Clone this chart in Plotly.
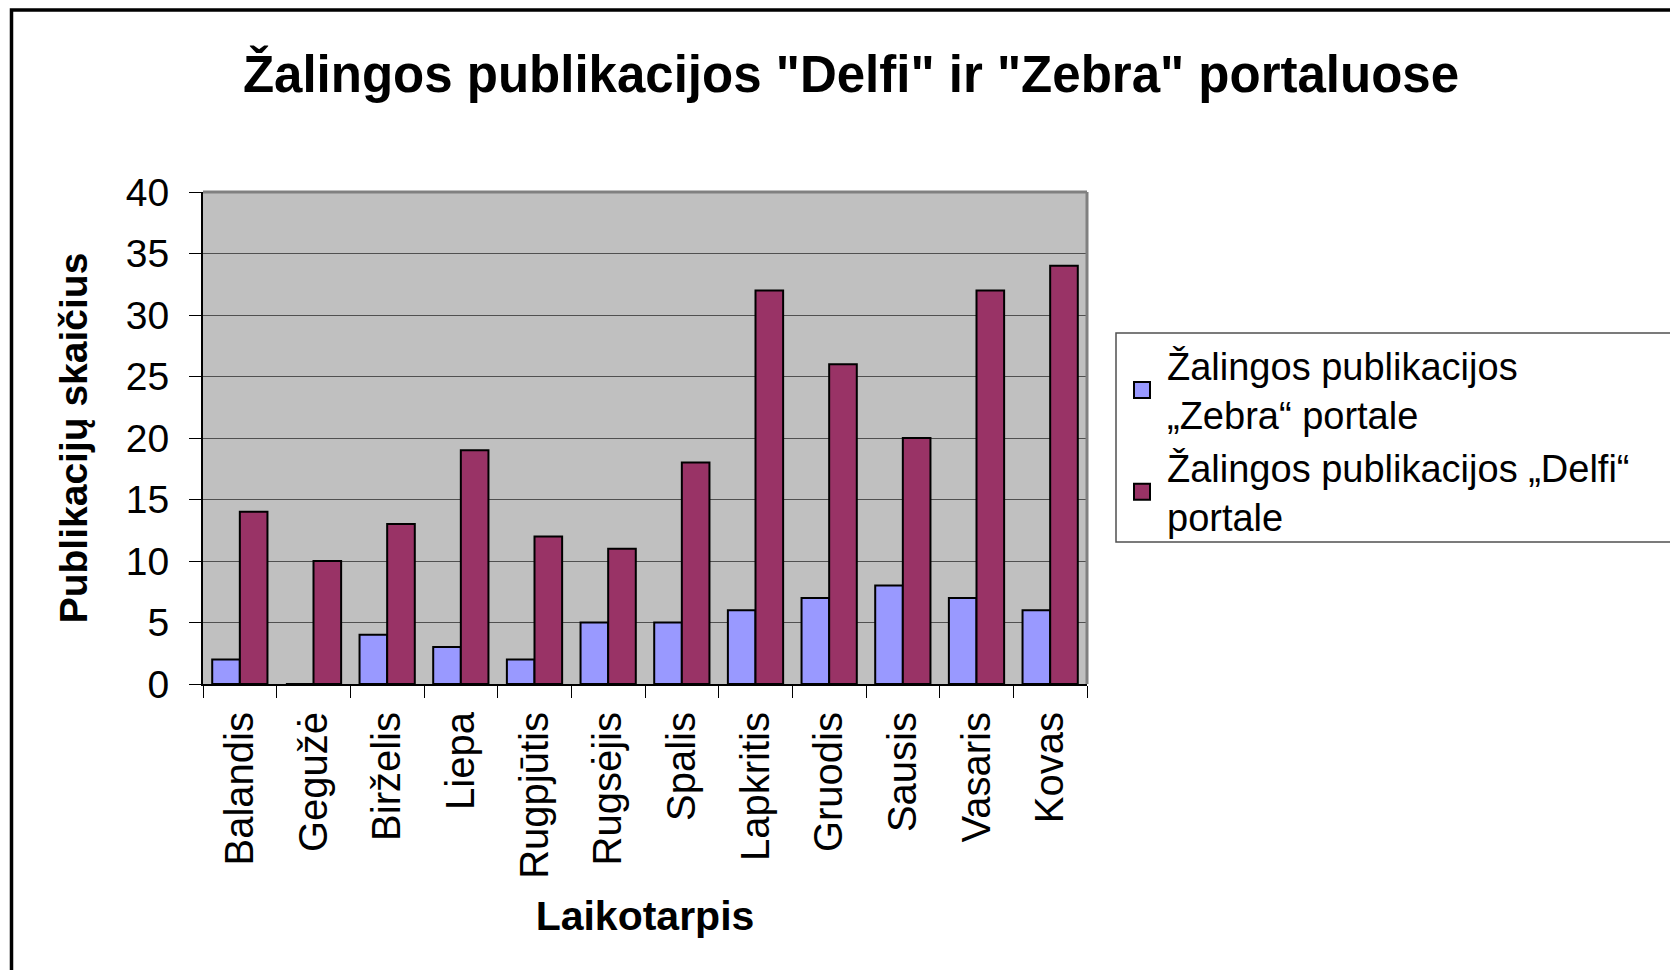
import plotly.graph_objects as go

months = ["Balandis", "Gegužė", "Birželis", "Liepa", "Rugpjūtis", "Rugsėjis",
          "Spalis", "Lapkritis", "Gruodis", "Sausis", "Vasaris", "Kovas"]
zebra = [2, 0, 4, 3, 2, 5, 5, 6, 7, 8, 7, 6]
delfi = [14, 10, 13, 19, 12, 11, 18, 32, 26, 20, 32, 34]
y_ticks = [0, 5, 10, 15, 20, 25, 30, 35, 40]

name_zebra = "Žalingos publikacijos<br>„Zebra“ portale"
name_delfi = "Žalingos publikacijos „Delfi“<br>portale"
title_text = "Žalingos publikacijos \"Delfi\" ir \"Zebra\" portaluose"

FONT = "Liberation Sans, Arial, sans-serif"
W, H = 1670, 970
L, R, T, B = 203, 1087, 192, 684
pw, ph = R - L, B - T
COL_Z, COL_D = "#9999FF", "#993366"

def px(x):
    return (x - L) / pw

def py(y):
    return (B - y) / ph

fig = go.Figure()
fig.add_trace(go.Bar(x=months, y=zebra, name=name_zebra, showlegend=False,
                     marker=dict(color=COL_Z, line=dict(color="black", width=2))))
fig.add_trace(go.Bar(x=months, y=delfi, name=name_delfi, showlegend=False,
                     marker=dict(color=COL_D, line=dict(color="black", width=2))))
# legend entries (larger square keys, like the original)
for nm, col in [(name_zebra, COL_Z), (name_delfi, COL_D)]:
    fig.add_trace(go.Scatter(x=[None], y=[None], mode="markers", name=nm,
                             marker=dict(symbol="square", size=16, color=col,
                                         line=dict(color="black", width=2))))

fig.update_layout(
    width=W, height=H,
    margin=dict(l=L, r=W - R, t=T, b=H - B, autoexpand=False),
    paper_bgcolor="white",
    plot_bgcolor="#C0C0C0",
    barmode="group", bargap=0.25, bargroupgap=0,
    font=dict(family=FONT, color="black", size=38),
    title=dict(text=title_text, x=851 / W, xanchor="center", xref="container",
               y=1 - 74 / H, yanchor="middle", yref="container",
               font=dict(family=FONT, size=51, weight="bold", color="black")),
    legend=dict(x=px(1117), y=py(334), xanchor="left", yanchor="top",
                bgcolor="rgba(0,0,0,0)", borderwidth=0,
                font=dict(family=FONT, size=38, color="black"),
                itemwidth=40, tracegroupgap=8, itemsizing="trace"),
    showlegend=True,
)

fig.update_xaxes(
    type="category", tickson="boundaries", ticks="outside", ticklen=12,
    tickcolor="black", tickwidth=1, tickangle=-90,
    showline=True, linecolor="black", linewidth=2, showgrid=False,
    tickfont=dict(family=FONT, size=40), ticklabelstandoff=10,
    title=dict(text="Laikotarpis", standoff=24,
               font=dict(family=FONT, size=41, weight="bold")),
)
fig.update_yaxes(
    range=[0, 40], tickvals=y_ticks, ticks="outside", ticklen=12,
    tickcolor="black", tickwidth=1,
    showline=True, linecolor="black", linewidth=2,
    showgrid=True, gridcolor="#505050", gridwidth=1, zeroline=False,
    tickfont=dict(family=FONT, size=39), ticklabelstandoff=12,
    title=dict(text="Publikacijų skaičius", standoff=26,
               font=dict(family=FONT, size=39, weight="bold")),
)

# plot-area border (grey top & right edges)
fig.add_shape(type="line", xref="paper", yref="paper", x0=0, x1=1, y0=1, y1=1,
              line=dict(color="#808080", width=3), layer="above")
fig.add_shape(type="line", xref="paper", yref="paper", x0=1, x1=1, y0=0, y1=1,
              line=dict(color="#808080", width=3), layer="above")
# legend box, running off the right edge as in the original
fig.add_shape(type="rect", xref="paper", yref="paper",
              x0=px(1116), x1=px(1700), y0=py(542), y1=py(333),
              line=dict(color="#505050", width=1.5), fillcolor="white", layer="above")
# outer chart frame
fig.add_shape(type="rect", xref="paper", yref="paper",
              x0=px(11.5), x1=px(1700), y0=py(10), y1=py(1000),
              line=dict(color="black", width=3.5), fillcolor="rgba(0,0,0,0)", layer="above")

fig.write_html("out.html", config={"displayModeBar": False},
               post_script="document.body.style.margin='0';")
